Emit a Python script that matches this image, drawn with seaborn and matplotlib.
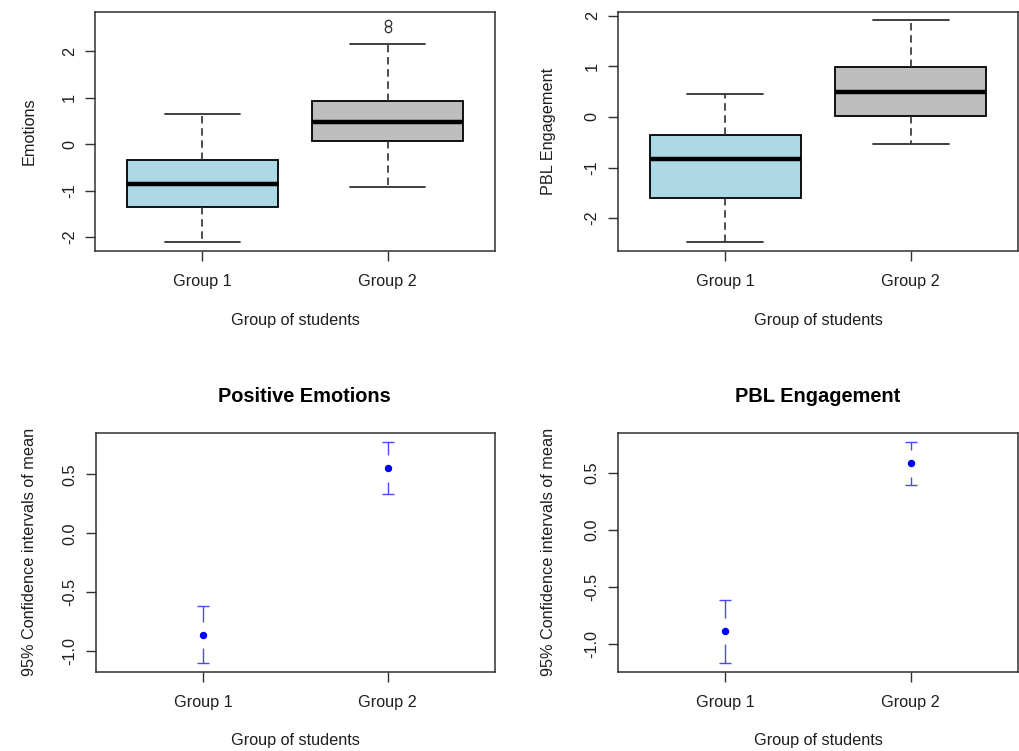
import numpy as np
import pandas as pd
import matplotlib
matplotlib.use("Agg")
import matplotlib.pyplot as plt
import seaborn as sns

sns.set_style("white")
plt.rcParams['font.family'] = ['Liberation Sans', 'DejaVu Sans']
plt.rcParams['axes.unicode_minus'] = False

# ---------------- data ----------------
groups = ["Group 1", "Group 2"]
group_colors = ["#ADD8E6", "#BEBEBE"]

# box-plot samples, built from the five-number summaries read off the boxes
# (low whisker, Q1, median, Q3, high whisker [+ outliers])
emotions_g1 = [-2.11, -1.36, -1.36, -1.36, -0.85, -0.85, -0.85, -0.34, -0.34, -0.34, 0.66]
emotions_g2 = [-0.93, 0.07, 0.07, 0.07, 0.47, 0.47, 0.47, 0.93, 0.93, 0.93, 2.16, 2.47, 2.62]
pbl_g1 = [-2.47, -1.60, -1.60, -0.83, -0.35, -0.35, 0.46]
pbl_g2 = [-0.53, 0.02, 0.02, 0.49, 0.98, 0.98, 1.92]

# means and 95% confidence intervals
emo_means = [-0.865, 0.553]
emo_lo = [-1.100, 0.337]
emo_hi = [-0.620, 0.776]
pbl_means = [-0.882, 0.583]
pbl_lo = [-1.159, 0.393]
pbl_hi = [-0.611, 0.771]

emo_ticks = [-2, -1, 0, 1, 2]
pbl_ticks = [-2, -1, 0, 1, 2]
ci_ticks = [-1.0, -0.5, 0.0, 0.5]
ci_ticklabels = ["-1.0", "-0.5", "0.0", "0.5"]

# ---------------- figure ----------------
W, H = 1019, 751
fig = plt.figure(figsize=(W / 100, H / 100), dpi=100)

def px_axes(left, top, right, bottom):
    return fig.add_axes([left / W, 1 - bottom / H, (right - left) / W, (bottom - top) / H])

ax_tl = px_axes(95, 12.3, 495, 251)
ax_tr = px_axes(617.7, 12.3, 1018.3, 251)
ax_bl = px_axes(95.7, 432.7, 495, 671.7)
ax_br = px_axes(617.7, 432.7, 1018.3, 671.7)

TXT = "#1e1e1e"
FS = 11.7

def style_axes(ax, ylab, ylab_x, ticks, ticklabels=None):
    for s in ax.spines.values():
        s.set_visible(True)
        s.set_color("#303030")
        s.set_linewidth(1.1)
    ax.set_xlim(-0.58, 1.58)
    ax.set_xticks([0, 1])
    ax.set_xticklabels(groups)
    ax.set_yticks(ticks)
    if ticklabels is not None:
        ax.set_yticklabels(ticklabels)
    ax.tick_params(axis="both", direction="out", length=7.2, width=1.0, color="#303030",
                   labelsize=FS, labelcolor=TXT, left=True, bottom=True)
    ax.tick_params(axis="x", pad=9.3)
    ax.tick_params(axis="y", pad=5.8, labelrotation=90)
    for lab in ax.get_yticklabels():
        lab.set_va("center")
    ax.set_xlabel("Group of students", fontsize=FS, color=TXT)
    ax.xaxis.set_label_coords(0.5, -0.258)
    ax.set_ylabel(ylab, fontsize=FS, color=TXT)
    ax.yaxis.set_label_coords(ylab_x, 0.5)
    ax.grid(False)

def draw_box(ax, g1, g2):
    df = pd.DataFrame({
        "group": [groups[0]] * len(g1) + [groups[1]] * len(g2),
        "value": list(g1) + list(g2),
    })
    sns.boxplot(data=df, x="group", y="value", hue="group", order=groups,
                palette=dict(zip(groups, group_colors)), legend=False,
                width=0.815, saturation=1, linecolor="black", linewidth=1.3,
                whiskerprops=dict(linestyle=(0, (4.5, 2.8)), linewidth=1.2, color="#303030"),
                capprops=dict(linewidth=1.3, color="#303030"),
                medianprops=dict(linewidth=3.2, color="black"),
                flierprops=dict(marker="o", markersize=4.6, markerfacecolor="none",
                                markeredgecolor="#303030", markeredgewidth=0.9),
                ax=ax)

draw_box(ax_tl, emotions_g1, emotions_g2)
ax_tl.set_ylim(-2.30, 2.84)
style_axes(ax_tl, "Emotions", -0.146, emo_ticks)

draw_box(ax_tr, pbl_g1, pbl_g2)
ax_tr.set_ylim(-2.65, 2.07)
style_axes(ax_tr, "PBL Engagement", -0.153, pbl_ticks)

def draw_ci(ax, means, lo, hi, ylim):
    ax.set_ylim(*ylim)
    sns.pointplot(x=groups, y=means, order=groups, errorbar=None, linestyle="none",
                  color="blue", markers="o", markersize=3.3, ax=ax)
    ax.set_ylim(*ylim)
    ax.set_xlim(-0.58, 1.58)
    height_px = ax.get_position().height * H
    gap = 13.3 * (ylim[1] - ylim[0]) / height_px
    xs = np.arange(len(groups))
    bar_col = "#4848ff"
    for x, m, l, h in zip(xs, means, lo, hi):
        if h - m > gap:
            ax.vlines(x, m + gap, h, color=bar_col, linewidth=1.0)
        if m - l > gap:
            ax.vlines(x, l, m - gap, color=bar_col, linewidth=1.0)
    ax.plot(xs, hi, linestyle="none", marker="_", markersize=9.2, markeredgewidth=1.0, color=bar_col)
    ax.plot(xs, lo, linestyle="none", marker="_", markersize=9.2, markeredgewidth=1.0, color=bar_col)

draw_ci(ax_bl, emo_means, emo_lo, emo_hi, (-1.177, 0.855))
style_axes(ax_bl, "95% Confidence intervals of mean", -0.146, ci_ticks, ci_ticklabels)
ax_bl.set_title("Positive Emotions", fontsize=14.4, fontweight="bold", color="black", pad=22, x=0.523)

draw_ci(ax_br, pbl_means, pbl_lo, pbl_hi, (-1.238, 0.850))
style_axes(ax_br, "95% Confidence intervals of mean", -0.153, ci_ticks, ci_ticklabels)
ax_br.set_title("PBL Engagement", fontsize=14.4, fontweight="bold", color="black", pad=22)

fig.savefig("out.png", dpi=100, facecolor="white")
